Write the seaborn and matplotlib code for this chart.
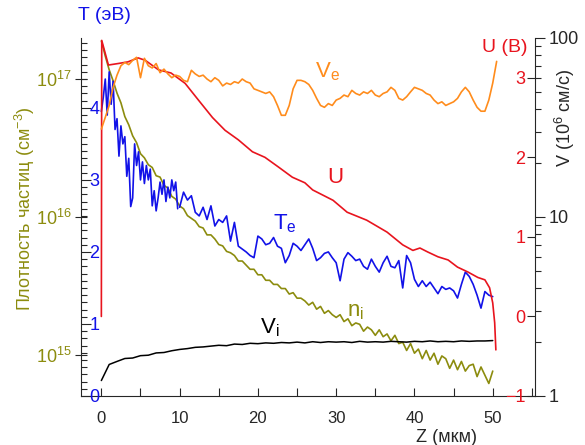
import numpy as np
import matplotlib
matplotlib.use("Agg")
import matplotlib.pyplot as plt
import seaborn as sns
from matplotlib.ticker import MultipleLocator, FixedLocator, FixedFormatter, LogLocator, NullLocator, NullFormatter

sns.set_style("ticks")
plt.rcParams['font.family'] = ['Liberation Sans', 'DejaVu Sans']
plt.rcParams['mathtext.fontset'] = 'custom'
plt.rcParams['mathtext.rm'] = 'Liberation Sans'
plt.rcParams['mathtext.it'] = 'Liberation Sans'
plt.rcParams['mathtext.default'] = 'regular'

OLIVE = '#8C8C0E'
BLUE = '#1212E8'
RED = '#E8141E'
ORANGE = '#FF8C1C'

# =============================================================================
# DATA
# =============================================================================
# ion density n_i, log10(cm^-3), z = 0 .. 50 mkm step 0.5
z_ni = np.arange(101) * 0.5
ni_log = [17.28, 17.17, 17.07, 16.99, 16.90, 16.83, 16.73, 16.67, 16.59, 16.54,
          16.46, 16.43, 16.38, 16.36, 16.30, 16.29, 16.23, 16.21, 16.15, 16.13,
          16.08, 16.06, 16.01, 15.99, 15.97, 15.93, 15.92, 15.87, 15.87, 15.84,
          15.80, 15.79, 15.75, 15.74, 15.72, 15.68, 15.68, 15.65, 15.62, 15.62,
          15.58, 15.58, 15.54, 15.54, 15.51, 15.51, 15.48, 15.48, 15.44, 15.45,
          15.41, 15.41, 15.39, 15.36, 15.38, 15.33, 15.35, 15.30, 15.32, 15.29,
          15.27, 15.29, 15.24, 15.26, 15.21, 15.23, 15.22, 15.17, 15.20, 15.18,
          15.14, 15.18, 15.13, 15.15, 15.10, 15.14, 15.08, 15.09, 15.03, 15.08,
          15.01, 15.04, 14.97, 15.03, 14.96, 15.01, 14.93, 14.99, 14.97, 14.90,
          14.96, 14.89, 14.95, 14.88, 14.92, 14.93, 14.84, 14.91, 14.85, 14.79,
          14.88]

# electron temperature T_e (eV)
z_te_a = np.arange(40) * 0.25          # 0 .. 9.75
te_a = [3.95, 4.15, 4.40, 3.90, 4.50, 4.05, 4.37, 3.70, 3.85, 3.33,
        3.75, 3.50, 3.60, 3.05, 3.30, 2.63, 2.75, 3.50, 3.20, 3.39,
        3.00, 3.25, 2.95, 3.20, 3.00, 3.15, 2.64, 2.85, 2.57, 2.75,
        2.97, 2.80, 3.00, 2.70, 2.90, 2.75, 3.00, 2.85, 2.97, 2.60]
z_te_b = 10 + np.arange(81) * 0.5      # 10 .. 50
te_b = [2.62, 2.83, 2.72, 2.78, 2.55, 2.50, 2.62, 2.45, 2.64, 2.36,
        2.45, 2.41, 2.50, 2.15, 2.41, 2.08, 2.04, 2.00, 1.95, 1.92,
        2.22, 2.18, 2.10, 2.12, 2.20, 2.08, 2.05, 1.85, 1.95, 2.12,
        2.08, 2.02, 2.10, 2.18, 2.05, 1.88, 1.92, 1.98, 2.00, 1.92,
        1.85, 1.60, 1.90, 1.99, 1.94, 1.88, 1.90, 1.80, 1.76, 1.90,
        1.80, 1.72, 1.85, 1.94, 1.80, 1.78, 1.88, 1.50, 1.95, 1.85,
        1.62, 1.52, 1.60, 1.52, 1.58, 1.50, 1.42, 1.52, 1.48, 1.50,
        1.46, 1.36, 1.55, 1.72, 1.66, 1.55, 1.40, 1.22, 1.45, 1.40,
        1.38]

# potential U (V)
z_u = [0, 0.05, 0.9, 2.2, 3.4, 4.7, 5.6, 7.3, 8.9, 10.7,
       12.4, 14.2, 15.8, 17.5, 19.3, 20.9, 22.6, 24.4, 26.0, 27.0,
       29.6, 31.4, 33.9, 36.5, 38.5, 39.8, 40.7, 41.7, 43.0, 44.3,
       45.5, 46.8, 48.1, 49.0, 49.6, 50.0, 50.25, 50.4]
u = [0.0, 3.47, 3.16, 3.18, 3.20, 3.25, 3.22, 3.10, 3.06, 2.93,
     2.72, 2.50, 2.34, 2.22, 2.07, 2.00, 1.88, 1.75, 1.68, 1.59,
     1.46, 1.31, 1.21, 1.06, 0.90, 0.83, 0.86, 0.81, 0.75, 0.71,
     0.62, 0.56, 0.49, 0.46, 0.36, 0.17, -0.08, -0.42]

# electron velocity V_e (10^6 cm/s), z = 0 .. 50.5 step 0.5
z_ve = np.arange(102) * 0.5
ve = [31, 36, 42, 53, 62, 70, 73, 71, 75, 78,
      60, 77, 70, 68, 72, 64, 67, 63, 60, 62,
      61, 58, 57, 66, 63, 61, 62, 59, 57, 60,
      58, 54, 56, 55, 57, 56, 59, 57, 56, 52,
      51, 50, 49, 50, 47, 42, 37, 37, 42, 52,
      58, 58, 57, 55, 51, 46, 42, 41, 43, 42,
      45, 46, 48, 47, 51, 49, 48, 50, 49, 51,
      48, 47, 49, 50, 53, 51, 46, 45, 47, 50,
      53, 52, 51, 49, 48, 45, 43, 44, 42, 43,
      44, 46, 50, 53, 50, 45, 41, 39, 39, 45,
      56, 74]

# ion velocity V_i (10^6 cm/s), z = 0 .. 50 step 1
z_vi = np.arange(51)
vi = [1.22, 1.50, 1.56, 1.62, 1.63, 1.68, 1.69, 1.74, 1.75, 1.79,
      1.82, 1.84, 1.87, 1.88, 1.90, 1.92, 1.91, 1.95, 1.94, 1.97,
      1.96, 1.98, 1.97, 1.99, 1.98, 2.00, 1.98, 2.01, 1.99, 2.01,
      2.00, 2.01, 1.99, 2.02, 2.00, 2.01, 2.00, 2.02, 2.01, 2.00,
      2.02, 2.01, 2.03, 2.01, 2.02, 2.01, 2.03, 2.02, 2.03, 2.03,
      2.04]

# =============================================================================
# PLOT
# =============================================================================
fig = plt.figure(figsize=(5.85, 4.45), dpi=100)
ax = fig.add_axes([81/585, 49/445, 454/585, 358/445])

# density (left, log)
sns.lineplot(x=z_ni, y=10 ** np.array(ni_log), ax=ax, color=OLIVE, lw=1.2,
             estimator=None, sort=False)
ax.set_yscale('log')
ax.set_ylim(5e14, 2e17)
ax.set_xlim(-2.6, 55.4)
ax.yaxis.set_major_locator(FixedLocator([1e15, 1e16, 1e17]))
ax.yaxis.set_minor_locator(NullLocator())
ax.xaxis.set_major_locator(MultipleLocator(10))
ax.xaxis.set_minor_locator(MultipleLocator(5))
ax.tick_params(axis='x', which='both', direction='in', length=6, width=0.8,
               labelsize=12, pad=11, top=False)
ax.tick_params(axis='y', which='major', direction='inout', length=9, width=0.8,
               labelsize=13, labelcolor=OLIVE, pad=2, right=False)
ax.set_xlabel('')
ax.set_ylabel('')
for s in ['top', 'right']:
    ax.spines[s].set_visible(False)

# temperature (left, inside labels)
axT = ax.twinx()
sns.lineplot(x=z_te_a, y=te_a, ax=axT, color=BLUE, lw=1.2, estimator=None, sort=False)
sns.lineplot(x=z_te_b, y=te_b, ax=axT, color=BLUE, lw=1.2, estimator=None, sort=False)
axT.set_ylim(0, 4.97)
axT.yaxis.tick_left()
axT.set_yticks([0, 1, 2, 3, 4])
axT.yaxis.set_minor_locator(MultipleLocator(0.1))
axT.tick_params(axis='y', which='major', direction='in', length=7, width=0.8,
                labelsize=13, labelcolor=BLUE, pad=-6)
axT.tick_params(axis='y', which='minor', direction='in', length=4, width=0.8)
axT.set_ylabel('')
for s in axT.spines.values():
    s.set_visible(False)

# potential (right, inside labels)
axU = ax.twinx()
sns.lineplot(x=z_u, y=u, ax=axU, color=RED, lw=1.2, estimator=None, sort=False)
axU.set_ylim(-1, 3.5)
axU.set_yticks([-1, 0, 1, 2, 3])
axU.tick_params(axis='y', which='major', direction='in', length=6, width=0.8,
                labelsize=13, labelcolor=RED, pad=-7)
axU.set_ylabel('')
for s in axU.spines.values():
    s.set_visible(False)

# velocity (right, log)
axV = ax.twinx()
sns.lineplot(x=z_ve, y=ve, ax=axV, color=ORANGE, lw=1.2, estimator=None, sort=False)
sns.lineplot(x=z_vi, y=vi, ax=axV, color='black', lw=1.1, estimator=None, sort=False)
axV.set_yscale('log')
axV.set_ylim(1, 100)
axV.yaxis.set_major_locator(FixedLocator([1, 10, 100]))
axV.yaxis.set_major_formatter(FixedFormatter(['1', '10', '100']))
axV.yaxis.set_minor_locator(LogLocator(base=10, subs=range(2, 10)))
axV.yaxis.set_minor_formatter(NullFormatter())
axV.tick_params(axis='y', which='major', direction='out', length=7, width=0.8,
                labelsize=13, pad=3)
axV.tick_params(axis='y', which='minor', direction='out', length=4, width=0.8)
axV.set_ylabel('')
for s in ['top', 'left', 'bottom']:
    axV.spines[s].set_visible(False)

for lab in axT.get_yticklabels():
    lab.set_horizontalalignment('left')
for lab in axU.get_yticklabels():
    lab.set_horizontalalignment('right')

# curve names
ax.text(0.515, 0.891, 'V$_e$', color=ORANGE, fontsize=16, transform=ax.transAxes)
ax.text(0.542, 0.595, 'U', color=RED, fontsize=16, transform=ax.transAxes)
ax.text(0.423, 0.464, 'T$_e$', color=BLUE, fontsize=16, transform=ax.transAxes)
ax.text(0.586, 0.221, 'n$_i$', color=OLIVE, fontsize=16, transform=ax.transAxes)
ax.text(0.394, 0.176, 'V$_i$', color='black', fontsize=16, transform=ax.transAxes)

# axis titles
fig.text(25/585, 1 - 209/445, 'Плотность частиц (см$^{-3}$)', rotation=90,
         ha='center', va='center', color=OLIVE, fontsize=13)
fig.text(565/585, 1 - 118/445, 'V (10$^6$ см/с)', rotation=90,
         ha='center', va='center', fontsize=13)
fig.text(446/585, 1 - 438/445, 'Z (мкм)', ha='center', va='center', fontsize=13)
fig.text(78/585, 1 - 15/445, 'T (эВ)', color=BLUE, ha='left', va='center', fontsize=14)
fig.text(527/585, 1 - 47/445, 'U (В)', color=RED, ha='right', va='center', fontsize=14)

plt.savefig('out.png', dpi=100, facecolor='white')
